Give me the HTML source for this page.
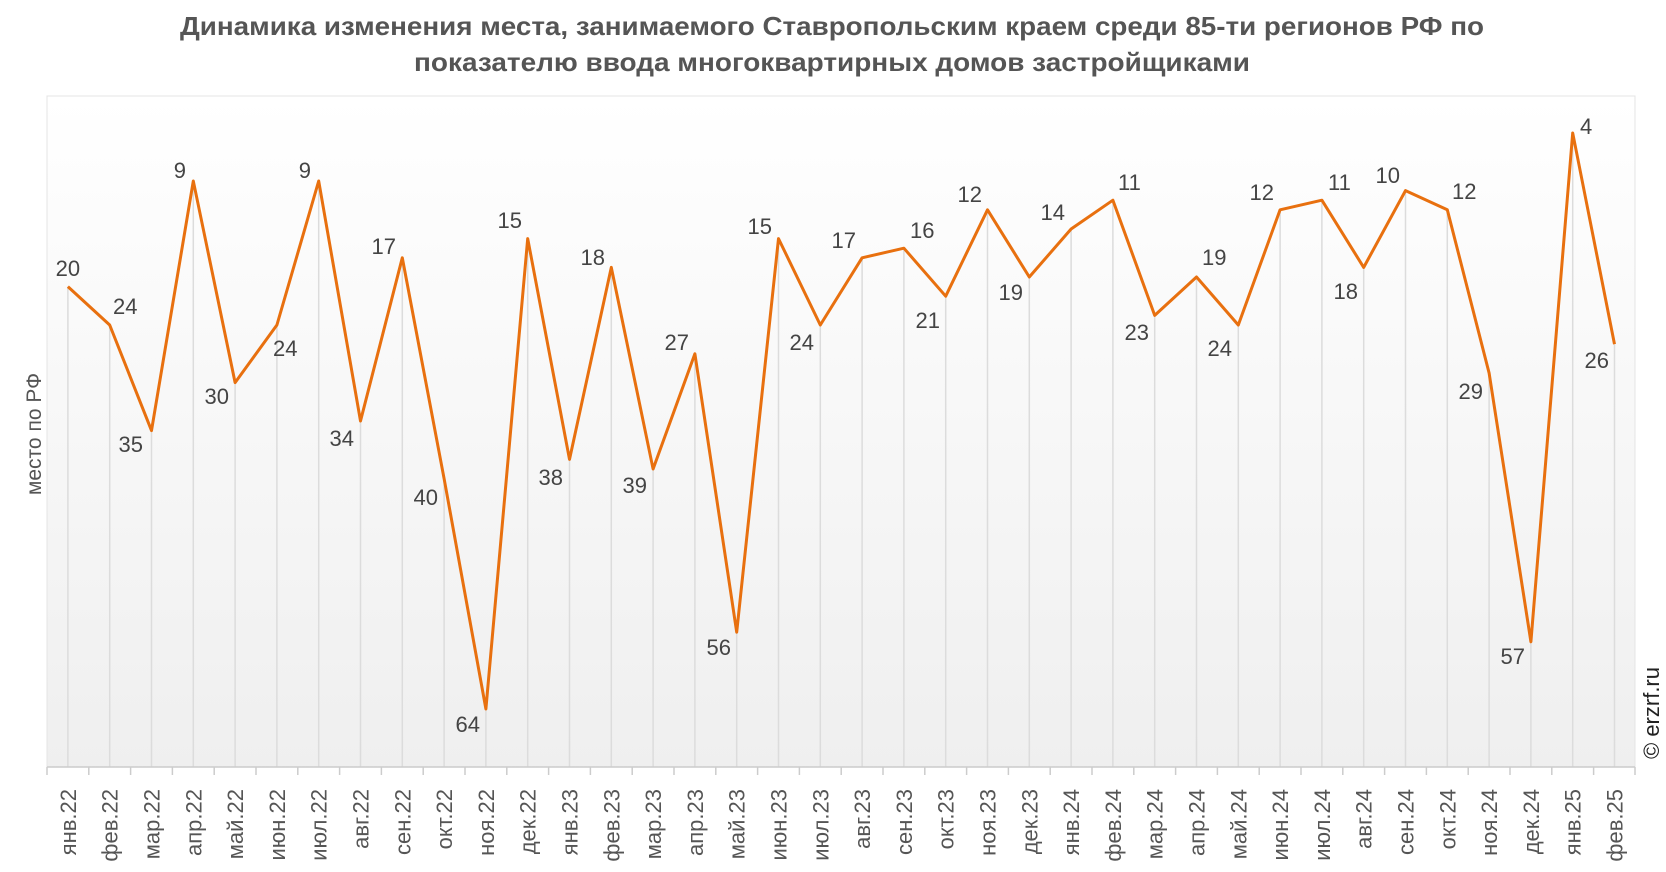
<!DOCTYPE html>
<html><head><meta charset="utf-8"><style>
html,body{margin:0;padding:0;background:#fff;}
svg{display:block;font-family:"Liberation Sans",sans-serif;}
</style></head><body>
<svg width="1666" height="872" viewBox="0 0 1666 872">
<defs><linearGradient id="bg" x1="0" y1="0" x2="0" y2="1"><stop offset="0" stop-color="#ffffff"/><stop offset="1" stop-color="#efefef"/></linearGradient></defs>
<text x="832" y="35" text-anchor="middle" font-size="26" font-weight="bold" fill="#555" textLength="1304" lengthAdjust="spacingAndGlyphs">Динамика изменения места, занимаемого Ставропольским краем среди 85-ти регионов РФ по</text>
<text x="832" y="71" text-anchor="middle" font-size="26" font-weight="bold" fill="#555" textLength="836" lengthAdjust="spacingAndGlyphs">показателю ввода многоквартирных домов застройщиками</text>
<rect x="47" y="96" width="1588" height="671" fill="url(#bg)" stroke="#e4e4e4"/>
<g stroke="#dcdcdc" stroke-width="1.5">
<line x1="67.9" y1="286.6" x2="67.9" y2="767"/><line x1="109.7" y1="325" x2="109.7" y2="767"/><line x1="151.5" y1="430.6" x2="151.5" y2="767"/><line x1="193.3" y1="181" x2="193.3" y2="767"/><line x1="235.1" y1="382.6" x2="235.1" y2="767"/><line x1="276.9" y1="325" x2="276.9" y2="767"/><line x1="318.7" y1="181" x2="318.7" y2="767"/><line x1="360.5" y1="421" x2="360.5" y2="767"/><line x1="402.3" y1="257.8" x2="402.3" y2="767"/><line x1="444.1" y1="478.6" x2="444.1" y2="767"/><line x1="485.9" y1="709" x2="485.9" y2="767"/><line x1="527.7" y1="238.6" x2="527.7" y2="767"/><line x1="569.5" y1="459.4" x2="569.5" y2="767"/><line x1="611.3" y1="267.4" x2="611.3" y2="767"/><line x1="653.1" y1="469" x2="653.1" y2="767"/><line x1="694.9" y1="353.8" x2="694.9" y2="767"/><line x1="736.7" y1="632.2" x2="736.7" y2="767"/><line x1="778.5" y1="238.6" x2="778.5" y2="767"/><line x1="820.3" y1="325" x2="820.3" y2="767"/><line x1="862.1" y1="257.8" x2="862.1" y2="767"/><line x1="903.9" y1="248.2" x2="903.9" y2="767"/><line x1="945.7" y1="296.2" x2="945.7" y2="767"/><line x1="987.5" y1="209.8" x2="987.5" y2="767"/><line x1="1029.3" y1="277" x2="1029.3" y2="767"/><line x1="1071.1" y1="229" x2="1071.1" y2="767"/><line x1="1112.9" y1="200.2" x2="1112.9" y2="767"/><line x1="1154.7" y1="315.4" x2="1154.7" y2="767"/><line x1="1196.5" y1="277" x2="1196.5" y2="767"/><line x1="1238.3" y1="325" x2="1238.3" y2="767"/><line x1="1280.1" y1="209.8" x2="1280.1" y2="767"/><line x1="1321.9" y1="200.2" x2="1321.9" y2="767"/><line x1="1363.7" y1="267.4" x2="1363.7" y2="767"/><line x1="1405.5" y1="190.6" x2="1405.5" y2="767"/><line x1="1447.3" y1="209.8" x2="1447.3" y2="767"/><line x1="1489.1" y1="373" x2="1489.1" y2="767"/><line x1="1530.9" y1="641.8" x2="1530.9" y2="767"/><line x1="1572.7" y1="133" x2="1572.7" y2="767"/><line x1="1614.5" y1="344.2" x2="1614.5" y2="767"/>
</g>
<line x1="47" y1="767" x2="1635" y2="767" stroke="#ccc" stroke-width="1.5"/>
<g stroke="#ccc" stroke-width="1.5">
<line x1="47" y1="767" x2="47" y2="775"/><line x1="88.8" y1="767" x2="88.8" y2="775"/><line x1="130.6" y1="767" x2="130.6" y2="775"/><line x1="172.4" y1="767" x2="172.4" y2="775"/><line x1="214.2" y1="767" x2="214.2" y2="775"/><line x1="256" y1="767" x2="256" y2="775"/><line x1="297.8" y1="767" x2="297.8" y2="775"/><line x1="339.6" y1="767" x2="339.6" y2="775"/><line x1="381.4" y1="767" x2="381.4" y2="775"/><line x1="423.2" y1="767" x2="423.2" y2="775"/><line x1="465" y1="767" x2="465" y2="775"/><line x1="506.8" y1="767" x2="506.8" y2="775"/><line x1="548.6" y1="767" x2="548.6" y2="775"/><line x1="590.4" y1="767" x2="590.4" y2="775"/><line x1="632.2" y1="767" x2="632.2" y2="775"/><line x1="674" y1="767" x2="674" y2="775"/><line x1="715.8" y1="767" x2="715.8" y2="775"/><line x1="757.6" y1="767" x2="757.6" y2="775"/><line x1="799.4" y1="767" x2="799.4" y2="775"/><line x1="841.2" y1="767" x2="841.2" y2="775"/><line x1="883" y1="767" x2="883" y2="775"/><line x1="924.8" y1="767" x2="924.8" y2="775"/><line x1="966.6" y1="767" x2="966.6" y2="775"/><line x1="1008.4" y1="767" x2="1008.4" y2="775"/><line x1="1050.2" y1="767" x2="1050.2" y2="775"/><line x1="1092" y1="767" x2="1092" y2="775"/><line x1="1133.8" y1="767" x2="1133.8" y2="775"/><line x1="1175.6" y1="767" x2="1175.6" y2="775"/><line x1="1217.4" y1="767" x2="1217.4" y2="775"/><line x1="1259.2" y1="767" x2="1259.2" y2="775"/><line x1="1301" y1="767" x2="1301" y2="775"/><line x1="1342.8" y1="767" x2="1342.8" y2="775"/><line x1="1384.6" y1="767" x2="1384.6" y2="775"/><line x1="1426.4" y1="767" x2="1426.4" y2="775"/><line x1="1468.2" y1="767" x2="1468.2" y2="775"/><line x1="1510" y1="767" x2="1510" y2="775"/><line x1="1551.8" y1="767" x2="1551.8" y2="775"/><line x1="1593.6" y1="767" x2="1593.6" y2="775"/><line x1="1635" y1="767" x2="1635" y2="775"/>
</g>
<polyline fill="none" stroke="#e8700f" stroke-width="3" stroke-linejoin="round" points="67.9,286.6 109.7,325 151.5,430.6 193.3,181 235.1,382.6 276.9,325 318.7,181 360.5,421 402.3,257.8 444.1,478.6 485.9,709 527.7,238.6 569.5,459.4 611.3,267.4 653.1,469 694.9,353.8 736.7,632.2 778.5,238.6 820.3,325 862.1,257.8 903.9,248.2 945.7,296.2 987.5,209.8 1029.3,277 1071.1,229 1112.9,200.2 1154.7,315.4 1196.5,277 1238.3,325 1280.1,209.8 1321.9,200.2 1363.7,267.4 1405.5,190.6 1447.3,209.8 1489.1,373 1530.9,641.8 1572.7,133 1614.5,344.2"/>
<g font-size="22" fill="#444">
<text x="67.9" y="276" text-anchor="middle">20</text>
<text x="113" y="314">24</text>
<text x="143" y="452" text-anchor="end">35</text>
<text x="186" y="178" text-anchor="end">9</text>
<text x="229" y="404" text-anchor="end">30</text>
<text x="273" y="356">24</text>
<text x="311" y="178" text-anchor="end">9</text>
<text x="354" y="446" text-anchor="end">34</text>
<text x="396" y="254" text-anchor="end">17</text>
<text x="438" y="505" text-anchor="end">40</text>
<text x="480" y="732" text-anchor="end">64</text>
<text x="522" y="228" text-anchor="end">15</text>
<text x="563" y="485" text-anchor="end">38</text>
<text x="605" y="265" text-anchor="end">18</text>
<text x="647" y="493" text-anchor="end">39</text>
<text x="689" y="350" text-anchor="end">27</text>
<text x="731" y="655" text-anchor="end">56</text>
<text x="772" y="234" text-anchor="end">15</text>
<text x="814" y="350" text-anchor="end">24</text>
<text x="856" y="248" text-anchor="end">17</text>
<text x="910" y="238">16</text>
<text x="940" y="328" text-anchor="end">21</text>
<text x="982" y="202" text-anchor="end">12</text>
<text x="1023" y="300" text-anchor="end">19</text>
<text x="1065" y="220" text-anchor="end">14</text>
<text x="1118" y="190">11</text>
<text x="1149" y="340" text-anchor="end">23</text>
<text x="1202" y="265">19</text>
<text x="1232" y="356" text-anchor="end">24</text>
<text x="1274" y="200" text-anchor="end">12</text>
<text x="1328" y="190">11</text>
<text x="1358" y="299" text-anchor="end">18</text>
<text x="1400" y="183" text-anchor="end">10</text>
<text x="1452" y="199">12</text>
<text x="1483" y="399" text-anchor="end">29</text>
<text x="1525" y="664" text-anchor="end">57</text>
<text x="1580" y="134">4</text>
<text x="1609" y="368" text-anchor="end">26</text>
</g>
<g font-size="22" fill="#555" text-anchor="end">
<text transform="translate(75.9,789) rotate(-90)">янв.22</text><text transform="translate(117.7,789) rotate(-90)">фев.22</text><text transform="translate(159.5,789) rotate(-90)">мар.22</text><text transform="translate(201.3,789) rotate(-90)">апр.22</text><text transform="translate(243.1,789) rotate(-90)">май.22</text><text transform="translate(284.9,789) rotate(-90)">июн.22</text><text transform="translate(326.7,789) rotate(-90)">июл.22</text><text transform="translate(368.5,789) rotate(-90)">авг.22</text><text transform="translate(410.3,789) rotate(-90)">сен.22</text><text transform="translate(452.1,789) rotate(-90)">окт.22</text><text transform="translate(493.9,789) rotate(-90)">ноя.22</text><text transform="translate(535.7,789) rotate(-90)">дек.22</text><text transform="translate(577.5,789) rotate(-90)">янв.23</text><text transform="translate(619.3,789) rotate(-90)">фев.23</text><text transform="translate(661.1,789) rotate(-90)">мар.23</text><text transform="translate(702.9,789) rotate(-90)">апр.23</text><text transform="translate(744.7,789) rotate(-90)">май.23</text><text transform="translate(786.5,789) rotate(-90)">июн.23</text><text transform="translate(828.3,789) rotate(-90)">июл.23</text><text transform="translate(870.1,789) rotate(-90)">авг.23</text><text transform="translate(911.9,789) rotate(-90)">сен.23</text><text transform="translate(953.7,789) rotate(-90)">окт.23</text><text transform="translate(995.5,789) rotate(-90)">ноя.23</text><text transform="translate(1037.3,789) rotate(-90)">дек.23</text><text transform="translate(1079.1,789) rotate(-90)">янв.24</text><text transform="translate(1120.9,789) rotate(-90)">фев.24</text><text transform="translate(1162.7,789) rotate(-90)">мар.24</text><text transform="translate(1204.5,789) rotate(-90)">апр.24</text><text transform="translate(1246.3,789) rotate(-90)">май.24</text><text transform="translate(1288.1,789) rotate(-90)">июн.24</text><text transform="translate(1329.9,789) rotate(-90)">июл.24</text><text transform="translate(1371.7,789) rotate(-90)">авг.24</text><text transform="translate(1413.5,789) rotate(-90)">сен.24</text><text transform="translate(1455.3,789) rotate(-90)">окт.24</text><text transform="translate(1497.1,789) rotate(-90)">ноя.24</text><text transform="translate(1538.9,789) rotate(-90)">дек.24</text><text transform="translate(1580.7,789) rotate(-90)">янв.25</text><text transform="translate(1622.5,789) rotate(-90)">фев.25</text>
</g>
<text transform="translate(41,434) rotate(-90)" font-size="21" fill="#555" text-anchor="middle">место по РФ</text>
<text transform="translate(1659,713) rotate(-90)" font-size="22" fill="#222" text-anchor="middle">© erzrf.ru</text>
</svg>
</body></html>
